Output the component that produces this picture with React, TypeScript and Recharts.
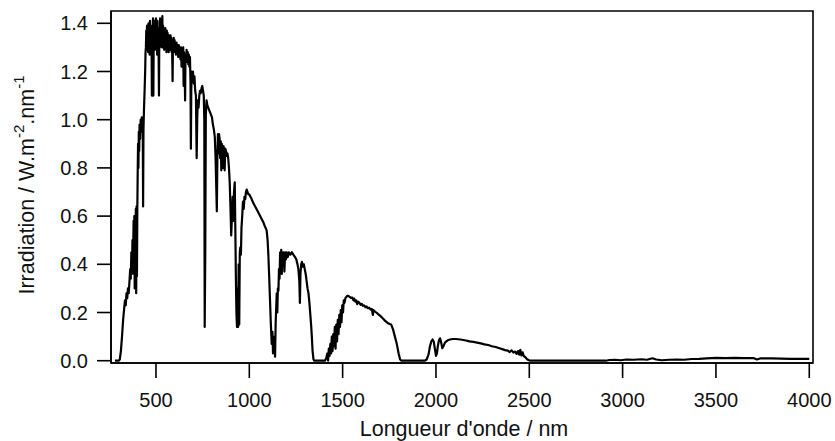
import { LineChart, Line, XAxis, YAxis, Label, ReferenceArea } from "recharts";

// solar irradiance, [wavelength nm, W.m-2.nm-1]
const ultraviolet: [number, number][] = [
  [280, 0], [290, 0], [300, 0], [306, 0.005], [312, 0.04], [318, 0.1], [324, 0.17],
  [330, 0.22], [334, 0.25], [338, 0.23], [342, 0.28], [346, 0.26], [350, 0.3],
  [354, 0.28], [358, 0.33], [362, 0.38], [365, 0.34], [368, 0.45], [371, 0.36],
  [374, 0.5], [377, 0.41], [380, 0.58], [382, 0.36], [384, 0.6], [386, 0.3],
  [388, 0.55], [390, 0.42], [392, 0.63], [394, 0.28], [396, 0.64], [398, 0.35],
  [400, 0.63], [402, 0.78], [404, 0.9], [406, 0.8], [408, 0.95], [410, 0.87],
  [412, 0.98], [415, 0.92], [418, 1.0], [421, 0.95], [424, 1.01], [427, 0.97],
  [429, 1.0], [431, 0.64], [433, 0.96], [436, 1.05], [439, 1.12], [442, 1.2], [444, 1.28],
];

const visible: [number, number][] = [
  [446, 1.3], [448, 1.37], [450, 1.29], [452, 1.39], [454, 1.31], [456, 1.36],
  [458, 1.28], [460, 1.4], [462, 1.32], [464, 1.38], [466, 1.27], [468, 1.41],
  [470, 1.33], [472, 1.39], [474, 1.3], [476, 1.38], [478, 1.1], [480, 1.37],
  [482, 1.31], [484, 1.42], [486, 1.1], [488, 1.38], [490, 1.3], [492, 1.41],
  [494, 1.29], [496, 1.4], [498, 1.32], [500, 1.42], [502, 1.3], [504, 1.39],
  [506, 1.27], [508, 1.41], [510, 1.31], [512, 1.38], [514, 1.29], [516, 1.1],
  [518, 1.37], [520, 1.3], [522, 1.42], [524, 1.31], [526, 1.4], [528, 1.33],
  [530, 1.41], [532, 1.3], [534, 1.43], [536, 1.32], [538, 1.39], [540, 1.3],
  [542, 1.38], [544, 1.29], [546, 1.37], [548, 1.31], [550, 1.38], [552, 1.3],
  [554, 1.36], [556, 1.28], [558, 1.37], [560, 1.31], [562, 1.36], [564, 1.3],
  [566, 1.35], [568, 1.28], [570, 1.35], [572, 1.3], [574, 1.34], [576, 1.29],
  [578, 1.35], [580, 1.3], [582, 1.34], [584, 1.28], [586, 1.33], [589, 1.16],
  [591, 1.32], [593, 1.28], [595, 1.34], [597, 1.29], [600, 1.33], [602, 1.28],
  [604, 1.32], [607, 1.27], [610, 1.32], [613, 1.28], [616, 1.31], [619, 1.26],
  [622, 1.31], [625, 1.27], [628, 1.3], [631, 1.25], [634, 1.3], [637, 1.22],
  [640, 1.29], [643, 1.26], [646, 1.3], [648, 1.14], [650, 1.28], [653, 1.25],
  [656, 1.08], [658, 1.27], [661, 1.24], [664, 1.29], [667, 1.24], [670, 1.28],
  [673, 1.23], [676, 1.27], [679, 1.22], [682, 1.26], [685, 1.15], [687, 0.88],
  [689, 1.12], [692, 1.2], [695, 1.16], [698, 1.2], [700, 1.17],
];

const nearInfrared: [number, number][] = [
  [703, 1.15], [706, 1.18], [710, 1.12], [714, 1.1], [718, 0.84], [721, 1.0],
  [724, 1.08], [728, 1.05], [732, 1.1], [736, 1.12], [740, 1.11], [744, 1.13],
  [748, 1.14], [752, 1.12], [756, 1.1], [759, 1.0], [761, 0.14], [764, 0.45],
  [767, 1.02], [771, 1.08], [775, 1.06], [780, 1.05], [785, 1.04], [790, 1.03],
  [795, 1.02], [800, 1.01], [805, 0.98], [810, 0.96], [815, 0.93], [819, 0.85],
  [823, 0.72], [826, 0.62], [829, 0.85], [832, 0.94], [835, 0.86], [838, 0.94],
  [841, 0.92], [844, 0.84], [847, 0.91], [850, 0.79], [853, 0.9], [856, 0.88],
  [859, 0.8], [862, 0.89], [865, 0.86], [868, 0.79], [871, 0.88], [875, 0.87],
  [879, 0.85], [883, 0.86], [887, 0.84], [891, 0.8], [895, 0.74], [899, 0.64],
  [903, 0.52], [907, 0.6], [911, 0.68], [914, 0.58], [918, 0.7], [922, 0.74],
  [925, 0.55], [928, 0.35], [931, 0.2], [934, 0.14], [937, 0.3], [940, 0.14],
  [943, 0.4], [946, 0.15], [949, 0.45], [952, 0.47], [955, 0.44], [958, 0.55],
  [962, 0.6], [966, 0.66], [970, 0.63], [974, 0.68], [978, 0.67], [982, 0.7],
  [986, 0.71], [990, 0.7], [995, 0.69], [1000, 0.69],
];

const waterBands: [number, number][] = [
  [1010, 0.675], [1022, 0.653], [1035, 0.635], [1045, 0.62], [1058, 0.6],
  [1068, 0.585], [1075, 0.575], [1082, 0.56], [1088, 0.55], [1093, 0.54],
  [1098, 0.5], [1102, 0.44], [1106, 0.36], [1111, 0.25], [1115, 0.16],
  [1120, 0.07], [1124, 0.12], [1127, 0.03], [1130, 0.09], [1133, 0.04],
  [1136, 0.1], [1138, 0.017], [1141, 0.15], [1144, 0.22], [1147, 0.28],
  [1150, 0.2], [1153, 0.3], [1156, 0.29], [1159, 0.38], [1162, 0.34],
  [1165, 0.45], [1168, 0.38], [1171, 0.46], [1174, 0.36], [1177, 0.45],
  [1180, 0.4], [1184, 0.45], [1188, 0.37], [1192, 0.45], [1196, 0.42],
  [1200, 0.45], [1206, 0.43], [1212, 0.45], [1220, 0.44], [1228, 0.45],
  [1236, 0.44], [1245, 0.43], [1252, 0.42], [1258, 0.4], [1263, 0.38],
  [1268, 0.33], [1271, 0.24], [1274, 0.36], [1278, 0.4], [1282, 0.41],
  [1287, 0.39], [1292, 0.4], [1297, 0.38], [1302, 0.36], [1307, 0.33],
  [1312, 0.3], [1317, 0.28], [1322, 0.24], [1327, 0.19], [1331, 0.15],
  [1335, 0.1], [1339, 0.04], [1344, 0.005], [1348, 0],
];

const shortwave1: [number, number][] = [
  [1360, 0], [1380, 0], [1405, 0], [1412, 0.01], [1418, 0.03], [1422, 0.0],
  [1426, 0.05], [1430, 0.02], [1434, 0.07], [1438, 0.03], [1442, 0.1],
  [1446, 0.04], [1450, 0.11], [1454, 0.06], [1458, 0.14], [1462, 0.05],
  [1466, 0.15], [1470, 0.08], [1474, 0.17], [1478, 0.11], [1482, 0.19],
  [1486, 0.14], [1490, 0.21], [1494, 0.16], [1498, 0.23], [1502, 0.2],
  [1506, 0.25], [1510, 0.24], [1515, 0.26], [1520, 0.265], [1526, 0.27],
  [1532, 0.268], [1538, 0.265], [1545, 0.26], [1552, 0.262], [1558, 0.25],
  [1562, 0.258], [1568, 0.245], [1573, 0.25], [1578, 0.235], [1583, 0.245],
  [1590, 0.24], [1596, 0.232], [1602, 0.236], [1608, 0.228], [1615, 0.23],
  [1622, 0.222], [1628, 0.225], [1635, 0.218], [1642, 0.22], [1650, 0.212],
  [1656, 0.215], [1662, 0.19], [1665, 0.21], [1672, 0.205], [1680, 0.2],
  [1688, 0.195], [1695, 0.19], [1703, 0.185], [1712, 0.178], [1720, 0.172],
  [1728, 0.165], [1736, 0.16], [1744, 0.155], [1752, 0.152], [1760, 0.15],
  [1770, 0.13], [1780, 0.1], [1790, 0.07], [1800, 0.03], [1808, 0.005],
  [1815, 0], [1830, 0],
];

const shortwave2: [number, number][] = [
  [1900, 0], [1940, 0], [1950, 0.005], [1960, 0.025], [1968, 0.06], [1975, 0.08],
  [1982, 0.088], [1988, 0.08], [1994, 0.05], [2000, 0.02], [2005, 0.03],
  [2010, 0.06], [2016, 0.085], [2022, 0.093], [2028, 0.075], [2034, 0.052],
  [2040, 0.06], [2048, 0.075], [2056, 0.08], [2064, 0.085], [2075, 0.088],
  [2090, 0.09], [2105, 0.09], [2120, 0.089], [2140, 0.087], [2160, 0.084],
  [2180, 0.08], [2200, 0.078], [2220, 0.075], [2240, 0.072], [2260, 0.068],
  [2280, 0.065], [2300, 0.06], [2320, 0.057], [2340, 0.052], [2355, 0.048],
  [2370, 0.044], [2385, 0.042], [2395, 0.036], [2405, 0.043], [2415, 0.034],
  [2425, 0.038], [2432, 0.028], [2440, 0.04], [2446, 0.025], [2452, 0.045],
  [2458, 0.022], [2464, 0.035], [2470, 0.02], [2478, 0.015], [2486, 0.008],
  [2495, 0.003], [2505, 0], [2520, 0],
];

const thermal: [number, number][] = [
  [2700, 0], [2910, 0], [2930, 0.003], [2960, 0.004], [2990, 0.002], [3020, 0.005],
  [3060, 0.004], [3100, 0.006], [3130, 0.004], [3160, 0.01], [3180, 0.005],
  [3210, 0.002], [3250, 0.004], [3290, 0.005], [3330, 0.004], [3370, 0.007],
  [3410, 0.008], [3450, 0.01], [3500, 0.012], [3550, 0.011], [3600, 0.012],
  [3650, 0.011], [3700, 0.011], [3720, 0.005], [3740, 0.01], [3800, 0.01],
  [3850, 0.009], [3900, 0.008], [3950, 0.008], [4000, 0.008],
];

const xTicks = [500, 1000, 1500, 2000, 2500, 3000, 3500, 4000];
const yTicks = [0, 0.2, 0.4, 0.6, 0.8, 1.0, 1.2, 1.4];
const xDomain: [number, number] = [259, 4020];
const yDomain: [number, number] = [-0.0095, 1.451];

const spectrum = [
  ...ultraviolet,
  ...visible,
  ...nearInfrared,
  ...waterBands,
  ...shortwave1,
  ...shortwave2,
  ...thermal,
].map(([wl, irr]) => ({ wl, irr }));

const FONT = "'Liberation Sans', Arial, Helvetica, sans-serif";
const INK = "#111";

const YTitle = (props: any) => {
  const vb = props.viewBox;
  const x = 34;
  const y = vb.y + vb.height / 2 - 2;
  return (
    <text
      x={x}
      y={y}
      transform={`rotate(-90, ${x}, ${y})`}
      textAnchor="middle"
      fontFamily={FONT}
      fontSize={21.5}
      fill={INK}
    >
      Irradiation / W.m
      <tspan dy={-10} fontSize={15}>-2</tspan>
      <tspan dy={10}>.nm</tspan>
      <tspan dy={-10} fontSize={15}>-1</tspan>
    </text>
  );
};

const XTitle = (props: any) => {
  const vb = props.viewBox;
  return (
    <text
      x={vb.x + vb.width / 2 + 2}
      y={436}
      textAnchor="middle"
      fontFamily={FONT}
      fontSize={21.5}
      fill={INK}
    >
      Longueur d'onde / nm
    </text>
  );
};

export default function App() {
  return (
    <div style={{ position: "absolute", left: 0, top: 0, background: "#fff" }}>
      <LineChart
        width={835}
        height={441}
        data={spectrum}
        margin={{ top: 11, right: 22, bottom: 0, left: 0 }}
      >
        <XAxis
          dataKey="wl"
          type="number"
          domain={xDomain}
          ticks={xTicks}
          allowDataOverflow
          height={78}
          tickSize={15}
          tickMargin={15}
          axisLine={{ stroke: "#000", strokeWidth: 1.6 }}
          tickLine={{ stroke: "#000", strokeWidth: 1.6 }}
          tick={{ fill: INK, fontSize: 20, fontFamily: FONT }}
        >
          <Label content={XTitle} />
        </XAxis>
        <YAxis
          type="number"
          domain={yDomain}
          ticks={yTicks}
          allowDataOverflow
          width={111}
          tickSize={14}
          tickMargin={9}
          tickFormatter={(v: number) => v.toFixed(1)}
          axisLine={{ stroke: "#000", strokeWidth: 1.6 }}
          tickLine={{ stroke: "#000", strokeWidth: 1.6 }}
          tick={{ fill: INK, fontSize: 20, fontFamily: FONT }}
        >
          <Label content={YTitle} />
        </YAxis>
        <ReferenceArea
          x1={xDomain[0]}
          x2={xDomain[1]}
          y1={yDomain[0]}
          y2={yDomain[1]}
          fill="none"
          fillOpacity={0}
          stroke="#000"
          strokeWidth={1.6}
          ifOverflow="visible"
        />
        <Line
          type="linear"
          dataKey="irr"
          stroke="#000"
          strokeWidth={2.2}
          strokeLinejoin="round"
          dot={false}
          isAnimationActive={false}
        />
      </LineChart>
    </div>
  );
}
